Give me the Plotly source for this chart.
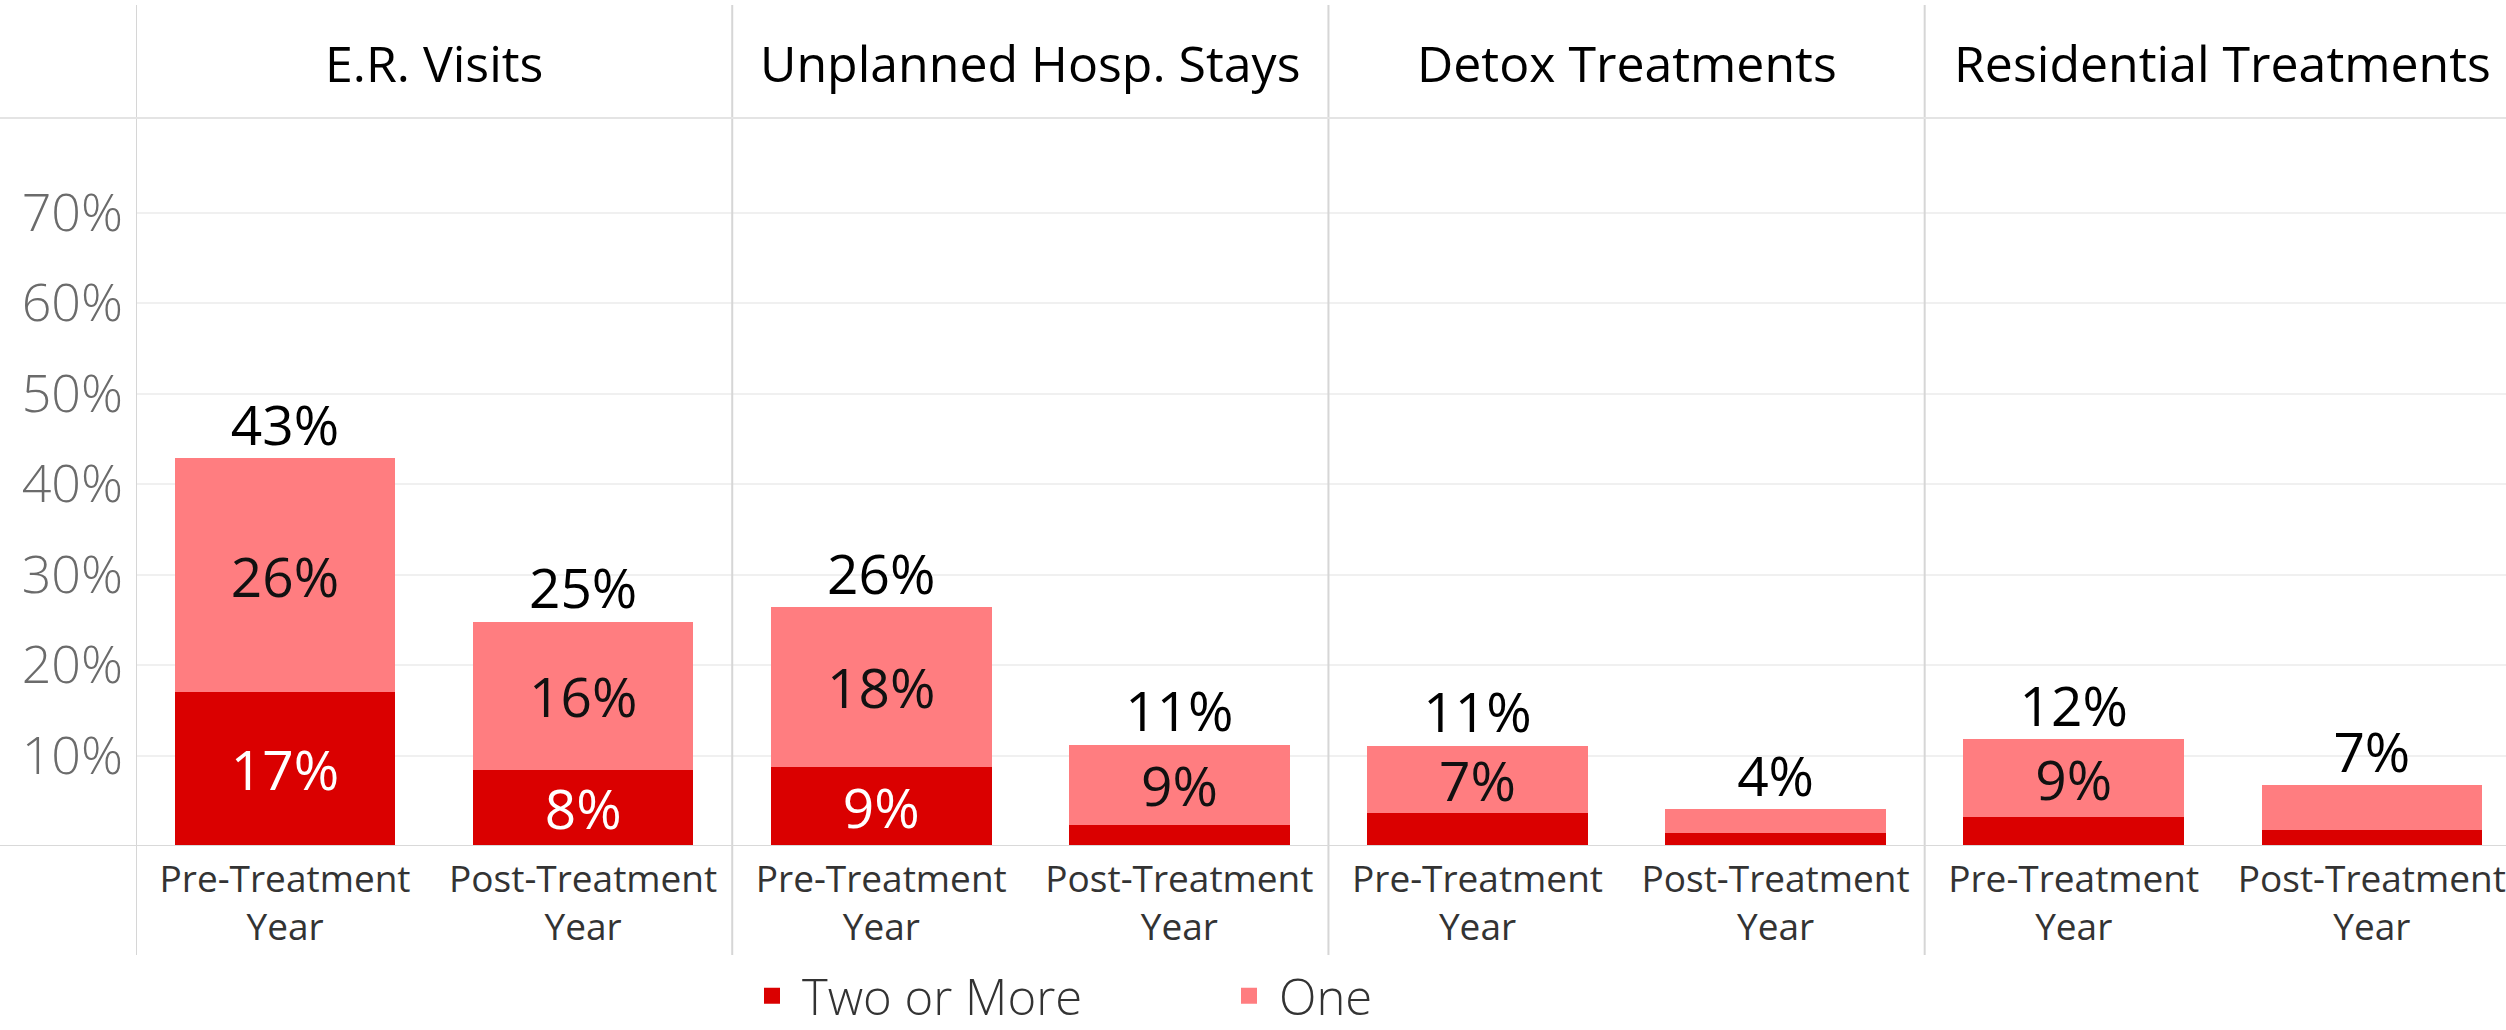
import plotly.graph_objects as go

# Event categories (panels) and the two periods shown in each
categories = ["E.R. Visits", "Unplanned Hosp. Stays", "Detox Treatments", "Residential Treatments"]
periods = ["Pre-Treatment<br>Year", "Post-Treatment<br>Year"]

# Share of members (%) with two or more / exactly one event, per panel and period
two_or_more = [17.04, 8.45, 8.77, 2.37, 3.69, 1.43, 3.18, 1.82]
one = [25.80, 16.30, 17.60, 8.80, 7.37, 2.63, 8.59, 4.88]

y_ticks = [10, 20, 30, 40, 50, 60, 70]
y_ticktext = [f"{v}%" for v in y_ticks]

DARK = "#DA0000"
LIGHT = "#FF7D80"
FONT = "Open Sans"

n = len(two_or_more)
xpos = list(range(n))
totals = [a + b for a, b in zip(two_or_more, one)]
ticktext = [periods[i % 2] for i in range(n)]


def seg_labels(vals, minimum=5.0):
    return [f"{v:.0f}%" if v >= minimum else "" for v in vals]


fig = go.Figure()
fig.add_trace(go.Bar(
    x=xpos, y=two_or_more, width=0.74, name="Two or More", legendgroup="two",
    showlegend=False,
    marker=dict(color=DARK, line=dict(width=0)),
    text=seg_labels(two_or_more), textposition="inside", insidetextanchor="middle",
    textangle=0, textfont=dict(family=FONT, size=55, color="white"),
))
fig.add_trace(go.Bar(
    x=xpos, y=one, width=0.74, name="One", legendgroup="one",
    showlegend=False,
    marker=dict(color=LIGHT, line=dict(width=0)),
    text=seg_labels(one), textposition="inside", insidetextanchor="middle",
    textangle=0, textfont=dict(family=FONT, size=55, color="#111111"),
))
fig.add_trace(go.Scatter(
    x=xpos, y=totals, mode="text", showlegend=False,
    text=[f"{t:.0f}%" for t in totals], textposition="top center",
    textfont=dict(family=FONT, size=55, color="black"),
    cliponaxis=False,
))
# Legend entries with square swatches
for name, color, grp in [("Two or More", DARK, "two"), ("One", LIGHT, "one")]:
    fig.add_trace(go.Scatter(
        x=[None], y=[None], mode="markers", name=name, legendgroup=grp,
        marker=dict(symbol="square", size=17, color=color),
    ))

L, T, B = 136, 118, 184
W, H = 2506, 1030
plot_h = H - T - B
plot_w = W - L
to_px_y = lambda px: (H - B - px) / plot_h
left_paper = -L / plot_w

shapes = []
# Panel separators, running from the header down through the tick label band
for xv in [-0.5, 1.5, 3.5, 5.5]:
    shapes.append(dict(type="line", xref="x", yref="paper", x0=xv, x1=xv,
                       y0=to_px_y(955), y1=to_px_y(5), line=dict(color="#d6d6d6", width=2)))
# Header underline and baseline across the full width
shapes.append(dict(type="line", xref="paper", yref="paper", x0=left_paper, x1=1,
                   y0=1, y1=1, line=dict(color="#e4e4e4", width=2)))
shapes.append(dict(type="line", xref="paper", yref="y", x0=left_paper, x1=1,
                   y0=0, y1=0, line=dict(color="#d9d9d9", width=2)))

annotations = []
for i, c in enumerate(categories):
    annotations.append(dict(x=2 * i + 0.5, xref="x", y=to_px_y(63), yref="paper",
                            text=c, showarrow=False, xanchor="center", yanchor="middle",
                            font=dict(family=FONT, size=50, color="#000000")))

fig.update_layout(
    width=W, height=H,
    margin=dict(l=L, r=0, t=T, b=B, pad=0),
    plot_bgcolor="white", paper_bgcolor="white",
    barmode="stack",
    showlegend=True,
    hovermode=False,
    shapes=shapes,
    annotations=annotations,
    uniformtext=dict(minsize=55, mode="show"),
    legend=dict(orientation="h", x=(742 - L) / plot_w, xanchor="left",
                yref="container", y=(H - 996) / H, yanchor="middle",
                font=dict(family=FONT, size=49, color="#333333", weight=300),
                itemwidth=50, entrywidth=412, entrywidthmode="pixels",
                traceorder="normal", bgcolor="rgba(0,0,0,0)"),
    xaxis=dict(range=[-0.5, 7.45], tickvals=xpos, ticktext=ticktext,
               showgrid=False, zeroline=False, showline=False, ticks="",
               automargin=False, ticklabelstandoff=8, ticklabeloverflow="allow",
               tickfont=dict(family=FONT, size=37, color="#333333")),
    yaxis=dict(range=[0, (H - B - T) / 90.5 * 10], tickvals=y_ticks, ticktext=y_ticktext,
               showgrid=True, gridcolor="#f0f0f0", gridwidth=2,
               zeroline=False, showline=False, ticks="", ticklabelstandoff=12,
               automargin=False,
               tickfont=dict(family=FONT, size=52, color="#6b6b6b", weight=300)),
)

fig.write_html("out.html")
